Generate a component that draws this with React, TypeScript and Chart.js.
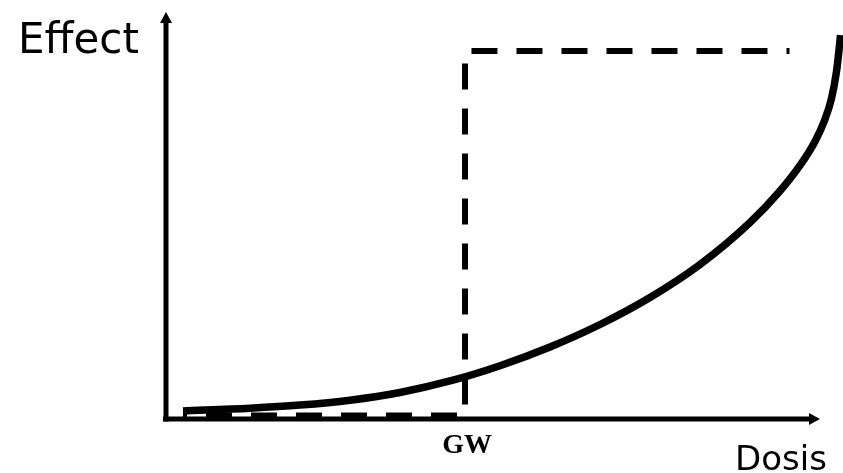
import { useEffect, useRef } from "react";
import { Chart, registerables } from "chart.js";

Chart.register(...registerables);

// Dose-response curve (dose 0..100 along x axis, effect 0..100 along y axis)
const doseCurve = [2.51, 12.41, 19.79, 27.18, 34.56, 41.95, 49.34, 56.72, 64.11, 71.49, 78.88, 86.26, 90.69, 93.65, 95.86, 97.27, 98.3, 99.04, 99.38, 99.63];
const effectCurve = [1.97, 2.65, 3.42, 4.62, 6.51, 9.34, 13.1, 17.69, 23.22, 29.85, 37.96, 48.28, 56.02, 62.29, 68.18, 73.34, 78.75, 85.38, 90.17, 94.35];

// Threshold (step) model
const doseStep = [2.51, 44.17, 44.17, 92.1];
const effectStep = [0.86, 0.86, 90.42, 90.42];

const thresholdDose = 44.17;
const thresholdLabel = "GW";
const xAxisLabel = "Dosis";
const yAxisLabel = "Effect";

const AXIS_RIGHT_INSET = 23;

const axesPlugin = {
  id: "axesArrows",
  beforeDatasetsDraw(chart: any) {
    const { ctx, chartArea, scales } = chart;
    const { left, top, bottom } = chartArea;
    const right = chartArea.right - AXIS_RIGHT_INSET;
    ctx.save();
    ctx.strokeStyle = "#000";
    ctx.fillStyle = "#000";
    ctx.lineWidth = 5;
    ctx.lineCap = "butt";
    // y axis
    ctx.beginPath();
    ctx.moveTo(left, bottom + 2.5);
    ctx.lineTo(left, top + 8);
    ctx.stroke();
    ctx.beginPath();
    ctx.moveTo(left, top);
    ctx.lineTo(left - 6, top + 11);
    ctx.lineTo(left + 6, top + 11);
    ctx.closePath();
    ctx.fill();
    // x axis
    ctx.beginPath();
    ctx.moveTo(left - 3, bottom);
    ctx.lineTo(right - 8, bottom);
    ctx.stroke();
    ctx.beginPath();
    ctx.moveTo(right, bottom);
    ctx.lineTo(right - 11, bottom - 6);
    ctx.lineTo(right - 11, bottom + 6);
    ctx.closePath();
    ctx.fill();

    // labels
    ctx.textBaseline = "alphabetic";
    ctx.textAlign = "left";
    ctx.font = "42px 'DejaVu Sans'";
    ctx.fillText(yAxisLabel, left - 148, top + 41);
    ctx.font = "34px 'DejaVu Sans'";
    ctx.fillText(xAxisLabel, right - 85, bottom + 51);
    ctx.textAlign = "center";
    ctx.font = "bold 28px 'Liberation Serif'";
    ctx.fillText(thresholdLabel, scales.x.getPixelForValue(thresholdDose) + 2, bottom + 34);
    ctx.restore();
  },
};

export default function App() {
  const canvasRef = useRef<HTMLCanvasElement | null>(null);

  useEffect(() => {
    document.body.style.margin = "0";
    if (!canvasRef.current) return;
    const chart = new Chart(canvasRef.current, {
      type: "scatter",
      data: {
        datasets: [
          {
            label: "Threshold",
            data: doseStep.map((d, i) => ({ x: d, y: effectStep[i] })),
            showLine: true,
            borderColor: "#000",
            borderWidth: 6,
            borderDash: [26, 19],
            borderDashOffset: 22,
            borderCapStyle: "butt",
            borderJoinStyle: "miter",
            pointRadius: 0,
            tension: 0,
            clip: false as any,
          },
          {
            label: "Curve",
            data: doseCurve.map((d, i) => ({ x: d, y: effectCurve[i] })),
            showLine: true,
            borderColor: "#000",
            borderWidth: 7.5,
            pointRadius: 0,
            cubicInterpolationMode: "monotone",
            clip: false as any,
          },
        ],
      },
      options: {
        animation: false,
        responsive: true,
        maintainAspectRatio: false,
        layout: { padding: { left: 166, right: 0, top: 12, bottom: 54 } },
        plugins: { legend: { display: false }, tooltip: { enabled: false } },
        scales: {
          x: { type: "linear", min: 0, max: 100, display: false },
          y: { type: "linear", min: 0, max: 100, display: false },
        },
      },
      plugins: [axesPlugin],
    });
    return () => chart.destroy();
  }, []);

  return (
    <div style={{ width: 843, height: 473, position: "relative" }}>
      <canvas ref={canvasRef} />
    </div>
  );
}
